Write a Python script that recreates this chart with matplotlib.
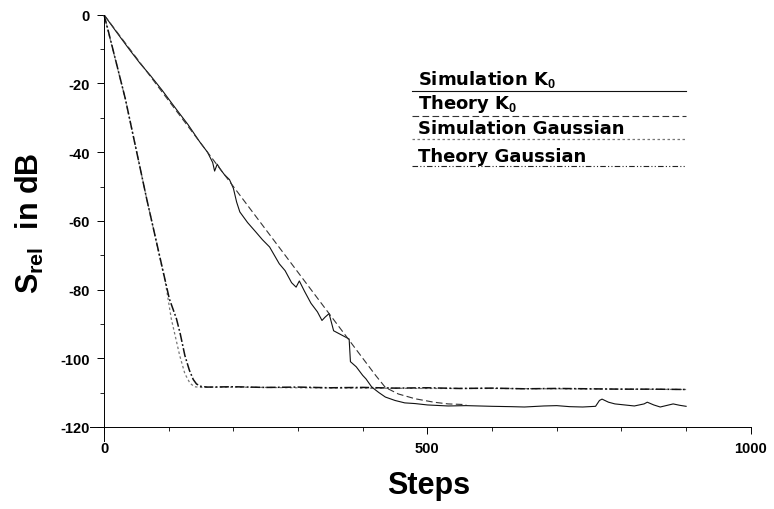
"""Relative error vs. steps, K0 and Gaussian cases
"""
import matplotlib
matplotlib.use('Agg')
import matplotlib.pyplot as plt

plt.rcParams['font.family'] = ['Liberation Sans', 'DejaVu Sans']
plt.rcParams['font.weight'] = 'bold'
plt.rcParams['axes.unicode_minus'] = False
plt.rcParams['mathtext.fontset'] = 'custom'
plt.rcParams['mathtext.rm'] = 'Liberation Sans:bold'
plt.rcParams['mathtext.bf'] = 'Liberation Sans:bold'
plt.rcParams['mathtext.it'] = 'Liberation Sans:bold'

# simulation K0 (noisy solid line)
k0_sim_steps = [0, 20, 40, 56, 71, 90, 105, 117, 130, 148, 160, 168, 171, 175, 180,
                186, 194, 200, 205, 210, 222, 235, 245, 256, 271, 280, 290, 297,
                302, 310, 320, 330, 337, 342, 348, 355, 365, 379, 381, 390, 400,
                405, 414, 425, 435, 450, 465, 481, 500, 532, 560, 600, 630, 650,
                680, 700, 720, 740, 760, 766, 770, 780, 790, 820, 835, 840, 850,
                860, 880, 890, 900]
k0_sim_db = [0, -5.2, -10.3, -14.2, -17.5, -22.0, -25.8, -28.8, -32.0, -37.0, -40.0,
             -43.0, -45.5, -43.5, -45.0, -46.5, -48.0, -50.5, -54.5, -57.4, -60.5,
             -63.3, -65.5, -67.6, -72.5, -74.5, -78.0, -79.3, -77.5, -80.5, -84.0,
             -86.5, -89.0, -88.0, -87.0, -92.0, -93.0, -94.4, -101.0, -102.5,
             -105.0, -106.0, -108.4, -110.0, -111.3, -112.3, -113.0, -113.2,
             -113.6, -113.9, -113.8, -114.0, -114.1, -114.2, -113.9, -113.8,
             -114.1, -114.2, -114.0, -112.3, -111.9, -112.8, -113.3, -113.9,
             -113.3, -112.8, -113.6, -114.2, -113.3, -113.7, -114.0]

# theory K0 (dashed)
k0_th_steps = [0, 100, 200, 300, 400, 420, 435, 455, 481, 510, 532, 560]
k0_th_db = [0, -25.0, -50.0, -75.0, -100.0, -105.0, -108.5, -110.4, -111.8,
            -112.8, -113.3, -113.5]

# simulation Gaussian (light short dashes)
g_sim_steps = [0, 33, 66, 95, 104, 117, 125, 133, 140, 150, 200, 300, 400, 500,
               600, 700, 800, 900]
g_sim_db = [0, -24.5, -53.6, -78.0, -88.5, -99.2, -104.5, -107.3, -108.3, -108.5,
            -108.4, -108.6, -108.7, -108.8, -108.8, -108.9, -109.0, -109.1]

# theory Gaussian (dark dash-dot)
g_th_steps = [0, 7, 33, 66, 101, 112, 118, 125, 132, 138, 143, 150, 160, 200, 250,
              300, 350, 400, 450, 500, 550, 600, 650, 700, 750, 800, 850, 900]
g_th_db = [0, -5.0, -24.5, -53.6, -82.7, -88.5, -93.0, -99.2, -103.5, -106.2,
           -107.5, -108.2, -108.4, -108.3, -108.5, -108.4, -108.6, -108.5, -108.7,
           -108.6, -108.8, -108.7, -108.9, -108.8, -108.9, -109.0, -109.0, -109.1]

legend_labels = [r'Simulation K$_\mathbf{0}$', r'Theory K$_\mathbf{0}$',
                 'Simulation Gaussian', 'Theory Gaussian']

fig = plt.figure(figsize=(7.74, 5.10), dpi=100)
ax = fig.add_axes([0.116, 0.134, 0.854, 0.835])

styles = [dict(ls='-', lw=0.8, color='#111111'),
          dict(ls=(0, (6, 3)), lw=0.8, color='#333333'),
          dict(ls=(0, (2, 2)), lw=0.9, color='#777777'),
          dict(ls=(0, (6, 1.5, 1.2, 1.5)), lw=1.1, color='#111111')]

ax.plot(k0_sim_steps, k0_sim_db, **styles[0])
ax.plot(k0_th_steps, k0_th_db, **styles[1])
ax.plot(g_sim_steps, g_sim_db, **styles[2])
ax.plot(g_th_steps, g_th_db, **styles[3])

# legend: label text sitting on top of its line sample
leg_y = [0.822, 0.763, 0.709, 0.645]
leg_styles = styles[:3] + [dict(ls=(0, (5, 2, 1, 2, 1, 2)), lw=0.8, color='#222222')]
for lab, yy, st in zip(legend_labels, leg_y, leg_styles):
    ax.plot([0.487, 0.902], [yy, yy], transform=ax.transAxes, **st)
    ax.text(0.497, yy + 0.003, lab, transform=ax.transAxes, fontsize=13,
            fontweight='bold', family='DejaVu Sans', ha='left', va='bottom')

ax.set_xlim(-22, 1000)
ax.set_ylim(-124, 0)
ax.spines['top'].set_visible(False)
ax.spines['right'].set_visible(False)
ax.spines['left'].set_position(('data', 0))
ax.spines['bottom'].set_position(('data', -120))
ax.spines['left'].set_bounds(-124, 0)
ax.spines['left'].set_linewidth(0.7)
ax.spines['bottom'].set_linewidth(0.7)

ax.set_xticks([0, 500, 1000])
ax.set_xticks(range(100, 1000, 100), minor=True)
ax.set_yticks(range(-120, 1, 20))
ax.set_yticks(range(-110, 0, 20), minor=True)
ax.tick_params(axis='both', which='major', direction='out', length=5, width=0.7,
               labelsize=10.5, pad=5)
ax.tick_params(axis='both', which='minor', direction='out', length=3, width=0.6)
for t in ax.get_xticklabels() + ax.get_yticklabels():
    t.set_fontweight('bold')

ax.set_xlabel('Steps', fontsize=22, fontweight='bold')
ax.set_ylabel(r'S$_\mathbf{rel}$  in dB', fontsize=22, fontweight='bold')
ax.yaxis.set_label_coords(-0.066, 0.513)
ax.xaxis.set_label_coords(0.512, -0.068)

fig.savefig('out.png', dpi=100)
